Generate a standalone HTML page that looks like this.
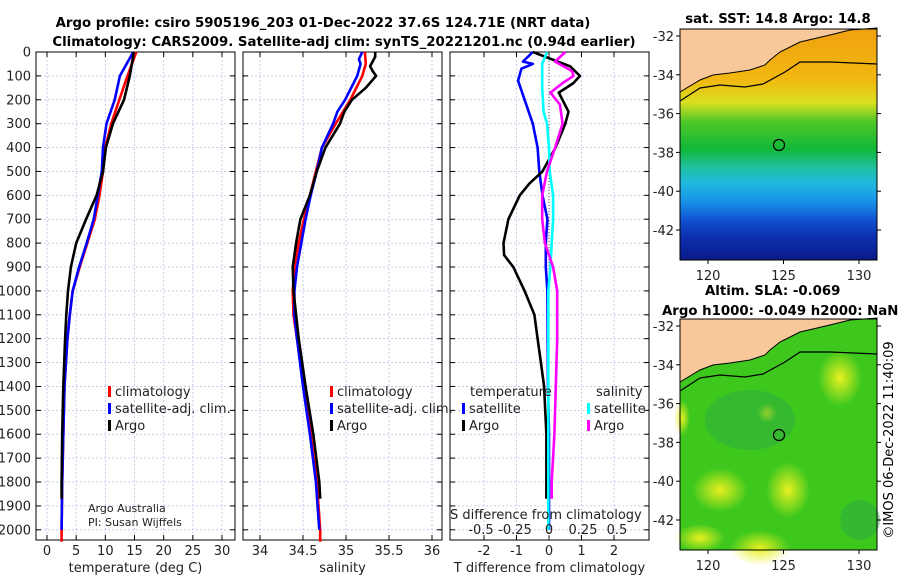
<!DOCTYPE html>
<html><head><meta charset="utf-8"><style>
body{margin:0;background:#fff;}
svg text{font-family:"DejaVu Sans","Liberation Sans",sans-serif;}
</style></head><body>
<svg id="fig" width="900" height="580" xmlns="http://www.w3.org/2000/svg">
<defs>
<linearGradient id="sstg" x1="0" y1="0" x2="0" y2="1">
<stop offset="0" stop-color="#f0a010"/><stop offset="0.22" stop-color="#f2b810"/><stop offset="0.32" stop-color="#d8e020"/>
<stop offset="0.4" stop-color="#50c828"/><stop offset="0.52" stop-color="#10b838"/><stop offset="0.6" stop-color="#20c0a0"/>
<stop offset="0.67" stop-color="#20b8e0"/><stop offset="0.75" stop-color="#1890e8"/><stop offset="0.83" stop-color="#1050d0"/>
<stop offset="0.9" stop-color="#0c30b0"/><stop offset="1" stop-color="#0a1a88"/></linearGradient>
<radialGradient id="blob"><stop offset="0" stop-color="#e8f020"/><stop offset="1" stop-color="#e8f020" stop-opacity="0"/></radialGradient>
</defs>
<g id="titles">
<text x="323" y="27" font-size="13.3" font-weight="bold" text-anchor="middle">Argo profile: csiro 5905196_203 01-Dec-2022 37.6S 124.71E (NRT data)</text>
<text x="344" y="46" font-size="13.3" font-weight="bold" text-anchor="middle">Climatology: CARS2009. Satellite-adj clim: synTS_20221201.nc (0.94d earlier)</text>
</g>
<g id="plots"></g>
<g id="maps">
<text x="778" y="23" font-size="13.3" font-weight="bold" text-anchor="middle">sat. SST: 14.8 Argo: 14.8</text>
<g>
<rect x="680" y="29" width="197" height="231" fill="url(#sstg)"/>
<polygon points="680,29 877,29 877,28 850,30 830,35 800,42 780,52 770,60 765,65 750,70 730,73 713,75 700,80 680,92" fill="#f9c89a" stroke="#000" stroke-width="1"/>
<polyline points="680,101 700,88 720,85 745,87 763,84 785,72 800,62 830,62 877,64" fill="none" stroke="#000" stroke-width="1.2"/>
<circle cx="779" cy="145" r="5.5" fill="none" stroke="#000" stroke-width="1.2"/>
<rect x="680" y="29" width="197" height="231" fill="none" stroke="#000"/>
</g>
<text x="705" y="295" font-size="13.3" font-weight="bold">Altim. SLA: -0.069</text>
<text x="662" y="315" font-size="13.3" font-weight="bold">Argo h1000: -0.049 h2000: NaN</text>
<g>
<rect x="680" y="319" width="197" height="231" fill="#3ec81e"/>
<ellipse cx="720" cy="490" rx="28" ry="22" fill="url(#blob)"/>
<ellipse cx="788" cy="490" rx="22" ry="28" fill="url(#blob)"/>
<ellipse cx="840" cy="378" rx="22" ry="28" fill="url(#blob)"/>
<ellipse cx="767" cy="413" rx="10" ry="10" fill="url(#blob)"/>
<ellipse cx="760" cy="548" rx="30" ry="18" fill="url(#blob)"/>
<ellipse cx="700" cy="538" rx="25" ry="14" fill="url(#blob)"/>
<ellipse cx="682" cy="418" rx="8" ry="18" fill="url(#blob)"/>
<ellipse cx="750" cy="420" rx="45" ry="30" fill="#2aa845" opacity="0.45"/>
<ellipse cx="860" cy="520" rx="20" ry="20" fill="#2aa845" opacity="0.5"/>
<polygon points="680,319 877,319 877,318 850,320 830,325 800,332 780,342 770,350 765,355 750,360 730,363 713,365 700,370 680,382" fill="#f9c89a" stroke="#000" stroke-width="1"/>
<polyline points="680,391 700,378 720,375 745,377 763,374 785,362 800,352 830,352 877,354" fill="none" stroke="#000" stroke-width="1.2"/>
<circle cx="779" cy="435" r="5.5" fill="none" stroke="#000" stroke-width="1.2"/>
<rect x="680" y="319" width="197" height="231" fill="none" stroke="#000"/>
</g>
<text transform="translate(893,440) rotate(-90)" font-size="13" text-anchor="middle">©IMOS 06-Dec-2022 11:40:09</text>
</g>
</svg>
<script>
// ---- data ----
const depthArgo = [0,100,200,300,400,500,600,700,800,900,1000,1100,1200,1400,1600,1800,1870];
const tempArgo  = [14.9,14.2,13.2,11.3,10.1,9.6,8.5,6.7,5.0,4.1,3.6,3.3,3.1,2.8,2.6,2.5,2.5];
const depthClim = [0,100,200,300,400,500,600,700,800,900,1000,1100,1200,1400,1600,1800,2000,2050];
const tempClim  = [15.3,13.8,12.4,11.0,10.0,9.6,9.0,8.2,6.9,5.6,4.4,3.9,3.5,3.0,2.8,2.6,2.5,2.5];
const depthSat  = [0,100,200,300,400,500,600,700,800,900,1000,1100,1200,1400,1600,1800,2000];
const tempSat   = [14.8,12.5,11.6,10.2,9.6,9.4,8.7,8.0,6.8,5.5,4.4,3.9,3.5,3.0,2.8,2.6,2.5];
const depthSalArgo = [0,20,60,80,100,150,200,250,300,400,500,600,700,800,900,1000,1100,1200,1400,1600,1800,1870];
const salArgo   = [35.34,35.34,35.28,35.31,35.35,35.23,35.07,34.98,34.93,34.76,34.66,34.58,34.47,34.42,34.38,34.39,34.42,34.45,34.53,34.62,34.69,34.70];
const salClim   = [35.22,35.23,35.19,35.05,34.88,34.72,34.65,34.58,34.51,34.45,34.40,34.38,34.39,34.43,34.51,34.59,34.66,34.70,34.70];
const depthSalClim = [0,50,100,200,300,400,500,600,700,800,900,1000,1100,1200,1400,1600,1800,2000,2050];
const salSat    = [35.19,35.15,35.17,35.13,34.99,34.90,34.85,34.72,34.66,34.59,34.53,34.48,34.43,34.40,34.40,34.43,34.50,34.58,34.65,34.69];
const depthSalSat = [0,30,50,100,200,250,300,400,500,600,700,800,900,1000,1100,1200,1400,1600,1800,2000];
const depthDT   = [0,60,100,130,170,250,300,400,500,550,600,700,800,850,900,1000,1100,1200,1300,1400,1600,1800,1870];
const dTArgo    = [-0.5,0.65,0.95,0.75,0.3,0.6,0.5,0.2,-0.2,-0.6,-0.9,-1.25,-1.4,-1.38,-1.1,-0.75,-0.45,-0.35,-0.25,-0.15,-0.08,-0.08,-0.08];
const depthDTs  = [0,40,50,70,120,200,300,400,500,600,700,800,900,1000,1200,1400,1600,2000];
const dTSat     = [-0.5,-0.8,-0.5,-0.85,-0.95,-0.75,-0.5,-0.35,-0.3,-0.2,-0.05,-0.1,-0.1,-0.05,-0.04,-0.03,0,0];
const depthDS   = [0,50,150,250,300,400,500,600,700,800,900,1000,1200,1400,2000];
const dSSat     = [-0.015,-0.05,-0.05,-0.04,-0.015,0,0.005,0.03,0.03,0.02,0.01,-0.005,-0.005,-0.005,-0.005];
const depthDSa  = [0,40,80,100,130,170,220,300,400,500,600,700,800,900,1000,1200,1400,1600,1800,1870];
const dSArgo    = [0.12,0.045,0.17,0.18,0.1,0.01,0.08,0.1,0.045,-0.015,-0.05,-0.05,-0.03,0.03,0.06,0.06,0.05,0.04,0.02,0.02];
const depthTicks = [0,100,200,300,400,500,600,700,800,900,1000,1100,1200,1300,1400,1500,1600,1700,1800,1900,2000];
const tempTicks = [0,5,10,15,20,25,30];
const salTicks  = [34,34.5,35,35.5,36];
const dTTicks   = [-2,-1,0,1,2];
const dSTicks   = [-0.5,-0.25,0,0.25,0.5];
const dSTickLabels = ['-0.5','-0.25','0','0.25','0.5'];

const NS='http://www.w3.org/2000/svg';
const root=document.getElementById('plots');
function el(tag,attrs,parent){const e=document.createElementNS(NS,tag);for(const k in attrs)e.setAttribute(k,attrs[k]);(parent||root).appendChild(e);return e;}
const Y0=52, Y1=540, yScale=d=>Y0+d*0.2389;
function lin(v0,p0,v1,p1){return v=>p0+(v-v0)*(p1-p0)/(v1-v0);}
const panels=[
 {x0:36,x1:235,xs:lin(0,47,30,222),ticks:tempTicks,labels:tempTicks.map(String),xlabel:'temperature (deg C)',name:'temperature'},
 {x0:243,x1:442,xs:lin(34,260,36,432),ticks:salTicks,labels:salTicks.map(String),xlabel:'salinity',name:'salinity'},
 {x0:450,x1:649,xs:lin(0,549,2,614),ticks:dTTicks,labels:dTTicks.map(String),xlabel:'T difference from climatology',name:'difference'}
];
const dSs=lin(0,549,0.5,617);
panels.forEach((p,i)=>{
  const g=el('g',{});
  
  
  el('rect',{x:p.x0,y:Y0,width:p.x1-p.x0,height:Y1-Y0,fill:'#fff'},g);
  depthTicks.forEach(d=>{const y=yScale(d);
    el('line',{x1:p.x0,x2:p.x1,y1:y,y2:y,stroke:'#b8c4e8','stroke-width':0.8,'stroke-dasharray':'2,2'},g);
    el('line',{x1:p.x0,x2:p.x0+5,y1:y,y2:y,stroke:'#000'},g);
    el('line',{x1:p.x1-5,x2:p.x1,y1:y,y2:y,stroke:'#000'},g);
    if(i===0){const t=el('text',{x:31,y:y+4.5,'font-size':13,'text-anchor':'end',fill:'#222'},g);t.textContent=d;}
  });
  p.ticks.forEach((v,j)=>{const x=p.xs(v);
    el('line',{x1:x,x2:x,y1:Y0,y2:Y1,stroke:'#b8c4e8','stroke-width':0.8,'stroke-dasharray':'2,2'},g);
    el('line',{x1:x,x2:x,y1:Y1-5,y2:Y1,stroke:'#000'},g);
    el('line',{x1:x,x2:x,y1:Y0,y2:Y0+5,stroke:'#000'},g);
    const t=el('text',{x:x,y:Y1+15,'font-size':13,'text-anchor':'middle',fill:'#222'},g);t.textContent=p.labels[j];
  });
  const xl=el('text',{x:(p.x0+p.x1)/2,y:572,'font-size':13,'text-anchor':'middle',fill:'#222'},g);
  xl.textContent=p.xlabel;
  
  
  el('rect',{x:p.x0,y:Y0,width:p.x1-p.x0,height:Y1-Y0,fill:'none',stroke:'#000'},g);
});
function line(xs,depths,vals,color,name,w){
  const pts=vals.map((v,i)=>xs(v).toFixed(1)+','+yScale(depths[i]).toFixed(1)).join(' ');
  const l=el('polyline',{points:pts,fill:'none',stroke:color,'stroke-width':w||2.6,'stroke-linejoin':'round'});
  
  
}
el('line',{x1:549,x2:549,y1:Y0,y2:Y1,stroke:'#555','stroke-dasharray':'1,2'});
line(panels[0].xs,depthClim,tempClim,'#ff0000','temp-climatology-line');
line(panels[0].xs,depthSat,tempSat,'#0000ff','temp-satellite-line');
line(panels[0].xs,depthArgo,tempArgo,'#000','temp-argo-line');
line(panels[1].xs,depthSalClim,salClim,'#ff0000','sal-climatology-line');
line(panels[1].xs,depthSalSat,salSat,'#0000ff','sal-satellite-line');
line(panels[1].xs,depthSalArgo,salArgo,'#000','sal-argo-line');
line(panels[2].xs,depthDTs,dTSat,'#0000ff','dT-satellite-line');
line(panels[2].xs,depthDT,dTArgo,'#000','dT-argo-line');
line(dSs,depthDS,dSSat,'#00ffff','dS-satellite-line');
line(dSs,depthDSa,dSArgo,'#ff00ff','dS-argo-line');
function legendEntry(x,y,color,label,name){
  const g=el('g',{});
  
  
  el('rect',{x:x,y:y-10,width:3,height:11,fill:color},g);
  const t=el('text',{x:x+7,y:y,'font-size':13,fill:'#222'},g);t.textContent=label;
}
legendEntry(108,396,'#ff0000','climatology','legend-t-climatology');
legendEntry(108,413,'#0000ff','satellite-adj. clim.','legend-t-satellite');
legendEntry(108,430,'#000','Argo','legend-t-argo');
legendEntry(330,396,'#ff0000','climatology','legend-s-climatology');
legendEntry(330,413,'#0000ff','satellite-adj. clim.','legend-s-satellite');
legendEntry(330,430,'#000','Argo','legend-s-argo');
let t=el('text',{x:470,y:396,'font-size':13,fill:'#222'});t.textContent='temperature';
t=el('text',{x:596,y:396,'font-size':13,fill:'#222'});t.textContent='salinity';
legendEntry(462,413,'#0000ff','satellite','legend-dT-satellite');
legendEntry(462,430,'#000','Argo','legend-dT-argo');
legendEntry(587,413,'#00ffff','satellite','legend-dS-satellite');
legendEntry(587,430,'#ff00ff','Argo','legend-dS-argo');
t=el('text',{x:450,y:519,'font-size':13,fill:'#222'});t.textContent='S difference from climatology';
dSTicks.forEach((v,j)=>{const tt=el('text',{x:dSs(v),y:534,'font-size':13,'text-anchor':'middle',fill:'#222'});tt.textContent=dSTickLabels[j];});
t=el('text',{x:88,y:512,'font-size':11,fill:'#222'});t.textContent='Argo Australia';
t=el('text',{x:88,y:526,'font-size':11,fill:'#222'});t.textContent='PI: Susan Wijffels';
const mg=document.getElementById('maps');
function mapAxes(top){
  const lx=lin(120,708,130,859), ly=lat=>top+(-32-lat)*19.4;
  [-32,-34,-36,-38,-40,-42].forEach(lat=>{const y=ly(lat);
    el('line',{x1:680,x2:676,y1:y,y2:y,stroke:'#000'},mg);
    el('line',{x1:877,x2:881,y1:y,y2:y,stroke:'#000'},mg);
    const tx=el('text',{x:674,y:y+5,'font-size':13,'text-anchor':'end',fill:'#222'},mg);tx.textContent=lat;});
  [120,125,130].forEach(lon=>{const x=lx(lon);
    el('line',{x1:x,x2:x,y1:top+224,y2:top+228,stroke:'#000'},mg);
    const tx=el('text',{x:x,y:top+244,'font-size':13,'text-anchor':'middle',fill:'#222'},mg);tx.textContent=lon;});
}
mapAxes(36);mapAxes(326);
</script>
</body></html>
